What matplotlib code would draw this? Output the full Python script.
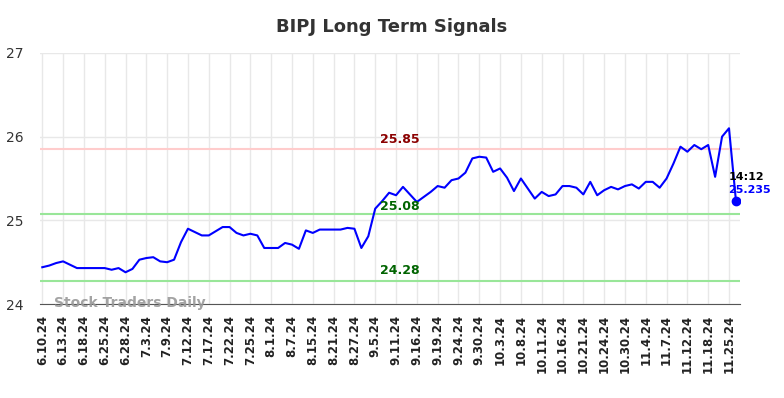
import matplotlib.pyplot as plt
import numpy as np

# closing values (one every trading day-ish)
prices = [24.44, 24.46, 24.49, 24.51, 24.47, 24.43, 24.43, 24.43, 24.43, 24.43,
          24.41, 24.43, 24.38, 24.42, 24.53, 24.55, 24.56, 24.51, 24.50, 24.53,
          24.74, 24.90, 24.86, 24.82, 24.82, 24.87, 24.92, 24.92, 24.85, 24.82,
          24.84, 24.82, 24.67, 24.67, 24.67, 24.73, 24.71, 24.66, 24.88, 24.85,
          24.89, 24.89, 24.89, 24.89, 24.91, 24.90, 24.67, 24.81, 25.14, 25.23,
          25.33, 25.30, 25.40, 25.31, 25.22, 25.28, 25.34, 25.41, 25.39, 25.48,
          25.50, 25.57, 25.74, 25.76, 25.75, 25.58, 25.62, 25.51, 25.35, 25.50,
          25.38, 25.26, 25.34, 25.29, 25.31, 25.41, 25.41, 25.39, 25.31, 25.46,
          25.30, 25.36, 25.40, 25.37, 25.41, 25.43, 25.38, 25.46, 25.46, 25.39,
          25.50, 25.68, 25.88, 25.82, 25.90, 25.85, 25.90, 25.52, 26.00, 26.10,
          25.235]
tick_labels = ['6.10.24', '6.13.24', '6.18.24', '6.25.24', '6.28.24', '7.3.24', '7.9.24',
               '7.12.24', '7.17.24', '7.22.24', '7.25.24', '8.1.24', '8.7.24', '8.15.24',
               '8.21.24', '8.27.24', '9.5.24', '9.11.24', '9.16.24', '9.19.24', '9.24.24',
               '9.30.24', '10.3.24', '10.8.24', '10.11.24', '10.16.24', '10.21.24',
               '10.24.24', '10.30.24', '11.4.24', '11.7.24', '11.12.24', '11.18.24',
               '11.25.24']
resistance = 25.85
support_hi = 25.08
support_lo = 24.28
last_time = '14:12'

x = np.arange(len(prices))
ticks = np.arange(0, len(prices), 3)

fig = plt.figure(figsize=(7.84, 3.98), dpi=100)
ax = fig.add_axes([0.051, 0.236, 0.893, 0.631])

ax.plot(x, prices, color='blue', lw=1.5, zorder=3)
ax.plot(x[-1], prices[-1], 'o', color='blue', ms=6, zorder=4)

ax.axhline(resistance, color='#ffcccc', lw=1.5, zorder=2)
ax.axhline(support_hi, color='#99e699', lw=1.5, zorder=2)
ax.axhline(support_lo, color='#99e699', lw=1.5, zorder=2)

mid = 51.6
ax.text(mid, resistance + 0.04, '%.2f' % resistance, color='#8b0000', fontsize=9,
        fontweight='bold', ha='center', va='bottom')
ax.text(mid, 25.165, '%.2f' % support_hi, color='#006400', fontsize=9,
        fontweight='bold', ha='center', va='center')
ax.text(mid, support_lo + 0.04, '%.2f' % support_lo, color='#006400', fontsize=9,
        fontweight='bold', ha='center', va='bottom')

ax.text(101.5, 25.52, last_time, color='black', fontsize=8,
        fontweight='bold', ha='center', va='center', clip_on=False)
ax.text(101.9, 25.365, '%.3f' % prices[-1], color='blue', fontsize=8,
        fontweight='bold', ha='center', va='center', clip_on=False)

ax.text(1.7, 24.01, 'Stock Traders Daily', color='#999999', fontsize=10,
        fontweight='bold', ha='left', va='center', alpha=0.9)

ax.set_xlim(-0.33, 100.6)
ax.set_ylim(24, 27)
ax.set_yticks([24, 25, 26, 27])
ax.set_xticks(ticks)
ax.set_xticklabels(tick_labels, rotation=90, fontsize=8.5, fontweight='bold', color='#222222')
ax.tick_params(axis='y', length=0, labelsize=10, labelcolor='#333333', pad=12)
ax.tick_params(axis='x', length=0, pad=8)
ax.grid(True, color='#e8e8e8', lw=1)
ax.set_axisbelow(True)
for s in ['top', 'right', 'left']:
    ax.spines[s].set_visible(False)
ax.spines['bottom'].set_color('#555555')

fig.suptitle('BIPJ Long Term Signals', fontsize=13, fontweight='bold', color='#333333', y=0.955)

plt.savefig('out.png')
